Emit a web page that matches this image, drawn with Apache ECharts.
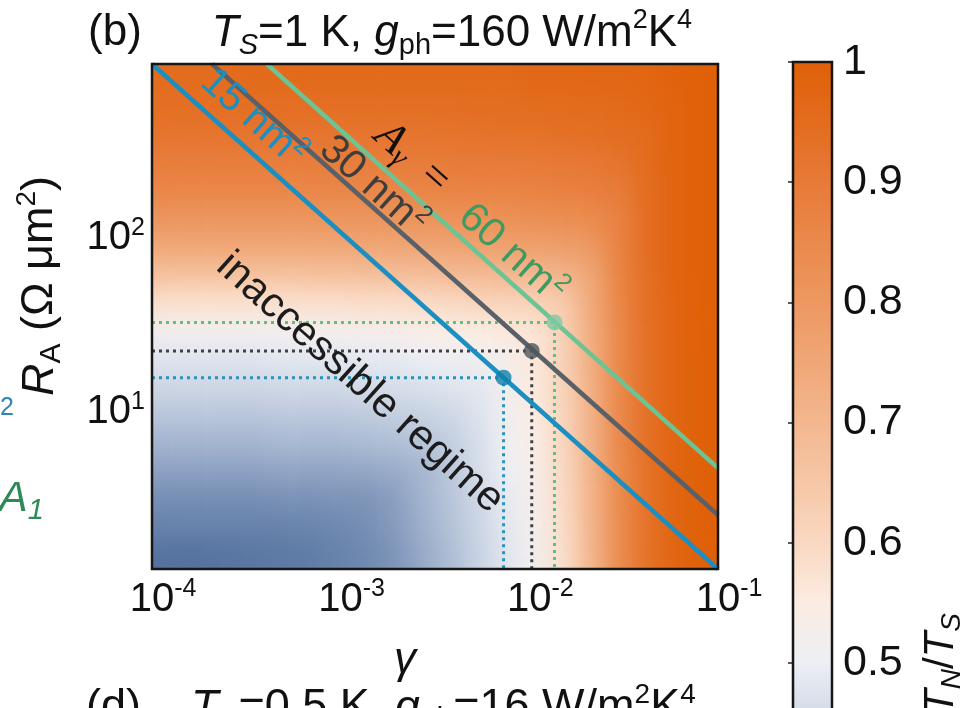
<!DOCTYPE html>
<html>
<head>
<meta charset="utf-8">
<script src="https://cdn.jsdelivr.net/npm/echarts@6/dist/echarts.min.js"></script>
<style>
  html, body { margin: 0; padding: 0; background: #ffffff; }
  #chart { width: 973px; height: 708px; }
  #fx { position: absolute; width: 0; height: 0; }
</style>
</head>
<body>
<!-- normalised blur: averages only the painted cells, so the field stays opaque up to the frame -->
<svg id="fx" aria-hidden="true">
  <filter id="smoothField" x="0" y="0" width="100%" height="100%" color-interpolation-filters="sRGB">
    <feGaussianBlur stdDeviation="11"/>
    <feComponentTransfer>
      <feFuncA type="linear" slope="40" intercept="0"/>
    </feComponentTransfer>
  </filter>
</svg>
<div id="chart"></div>
<script>
// ---- data -------------------------------------------------------------
// heat-map cell centres (log10 of gamma, log10 of R_A)
const gammaCellCentres = [-3.925, -3.775, -3.625, -3.475, -3.325, -3.175, -3.025, -2.875, -2.725, -2.575,
                          -2.425, -2.275, -2.125, -1.975, -1.825, -1.675, -1.525, -1.375, -1.225, -1.075];
const raCellCentres = [0.181, 0.342, 0.503, 0.664, 0.825, 0.986, 1.147, 1.308, 1.469,
                       1.631, 1.792, 1.953, 2.114, 2.275, 2.436, 2.597, 2.758, 2.919];

// T_N / T_S, one row per R_A cell, listed from the top row (high R_A) to the bottom row
const tnRatioRows = [
  [0.95,0.95,0.95,0.96,0.96,0.96,0.96,0.96,0.96,0.96,0.96,0.96,0.96,0.965,0.965,0.97,0.97,0.975,0.99,1.0],
  [0.94,0.94,0.94,0.94,0.94,0.94,0.94,0.94,0.94,0.94,0.94,0.945,0.945,0.95,0.95,0.955,0.96,0.965,0.985,1.0],
  [0.92,0.92,0.92,0.92,0.92,0.92,0.92,0.92,0.92,0.92,0.925,0.925,0.93,0.93,0.935,0.94,0.945,0.955,0.985,1.0],
  [0.89,0.89,0.89,0.89,0.89,0.89,0.89,0.89,0.89,0.895,0.895,0.9,0.9,0.9,0.905,0.91,0.92,0.95,0.985,1.0],
  [0.86,0.86,0.86,0.86,0.86,0.86,0.86,0.86,0.86,0.865,0.87,0.87,0.87,0.875,0.88,0.885,0.895,0.945,0.985,1.0],
  [0.81,0.81,0.81,0.81,0.81,0.81,0.81,0.81,0.815,0.815,0.82,0.82,0.825,0.83,0.835,0.845,0.875,0.945,0.985,1.0],
  [0.75,0.75,0.75,0.75,0.75,0.75,0.75,0.755,0.755,0.76,0.76,0.77,0.77,0.775,0.78,0.795,0.87,0.945,0.985,1.0],
  [0.67,0.67,0.67,0.67,0.67,0.67,0.675,0.675,0.68,0.68,0.69,0.69,0.7,0.7,0.71,0.75,0.865,0.94,0.985,1.0],
  [0.58,0.58,0.58,0.58,0.58,0.585,0.585,0.59,0.59,0.595,0.6,0.61,0.615,0.62,0.635,0.74,0.86,0.94,0.98,1.0],
  [0.52,0.52,0.52,0.52,0.52,0.525,0.525,0.53,0.53,0.54,0.545,0.55,0.56,0.57,0.62,0.73,0.855,0.935,0.98,1.0],
  [0.48,0.48,0.48,0.48,0.485,0.485,0.485,0.49,0.49,0.5,0.505,0.515,0.525,0.56,0.615,0.725,0.855,0.935,0.98,1.0],
  [0.45,0.45,0.45,0.45,0.455,0.455,0.455,0.46,0.465,0.47,0.48,0.485,0.515,0.555,0.61,0.72,0.85,0.935,0.98,1.0],
  [0.42,0.42,0.42,0.42,0.425,0.425,0.425,0.43,0.435,0.44,0.45,0.475,0.51,0.55,0.605,0.715,0.85,0.935,0.98,1.0],
  [0.39,0.39,0.39,0.39,0.395,0.395,0.395,0.4,0.405,0.415,0.43,0.465,0.505,0.54,0.6,0.715,0.85,0.935,0.98,1.0],
  [0.36,0.36,0.36,0.36,0.365,0.365,0.365,0.37,0.375,0.39,0.42,0.46,0.5,0.535,0.595,0.71,0.845,0.93,0.98,1.0],
  [0.33,0.33,0.33,0.33,0.335,0.335,0.34,0.34,0.355,0.385,0.415,0.45,0.49,0.53,0.59,0.705,0.845,0.93,0.98,1.0],
  [0.31,0.31,0.31,0.31,0.31,0.315,0.32,0.33,0.35,0.38,0.41,0.445,0.485,0.525,0.585,0.705,0.84,0.93,0.98,1.0],
  [0.28,0.28,0.285,0.29,0.295,0.3,0.31,0.32,0.34,0.37,0.4,0.44,0.48,0.52,0.58,0.7,0.84,0.93,0.98,1.0]
];

// axis ranges
const gammaRange = [1e-4, 0.1];
const raRange = [1.259, 1000];
const ratioRange = [0.2, 1.0];

// constant-area lines A_gamma = 15, 30, 60 nm^2 (end points in gamma and R_A)
const areaNames = ['15 nm²', '30 nm²', '60 nm²'];
const lineGammaEnds = [[1e-4, 0.1], [2.08e-4, 0.1], [4.06e-4, 0.1]];
const lineRAEnds = [[1000, 1.259], [1000, 2.57], [1000, 4.78]];

// operating points on each line
const dotGamma = [7.3e-3, 1.03e-2, 1.36e-2];
const dotRA = [15.8, 22.5, 32.8];

// colour scale ticks
const ratioTicks = [1.0, 0.9, 0.8, 0.7, 0.6, 0.5, 0.4, 0.3];

// ---- styling ------------------------------------------------------------
const SANS = '"Liberation Sans", Arial, Helvetica, sans-serif';
const SERIF = '"Liberation Serif", "Times New Roman", serif';
const lineColors = ['#1b8fc2', '#5a6067', '#6cc394'];
const dotColors = ['#0f80aa', '#4e565d', '#7fc9a2'];
const guideColors = ['#2a93b8', '#3e4148', '#62bd88'];
const labelColors = ['#1b8fc2', '#3e3e3e', '#3f9a62'];
const ratioColors = ['#3a5a8c', '#466494', '#5f7ca6', '#859abd', '#acbcd4', '#ced7e5', '#eceff5',
                     '#fcece2', '#f9d8c1', '#f6c7a7', '#f3b78f', '#f0a777', '#ed9861', '#ea894c',
                     '#e77a38', '#e36c1e', '#e06008'];

const W = 973, H = 708;
const PLOT = { left: 152, top: 64, width: 566, height: 505 };
const BAR = { left: 793, top: 62, width: 39 };
const BAR_PX_PER_UNIT = 1202;
const BAR_HEIGHT = (ratioRange[1] - ratioRange[0]) * BAR_PX_PER_UNIT;
const FS = 40;
const SLOPE = -Math.atan2(505, 566);
const TOP_Z = 2;   // canvas layer for axes, lines, text

function richSet(fill, size) {
  const s = size || FS;
  const lh = Math.round(s * 1.2);
  return {
    t:   { fill, fontSize: s, fontFamily: SANS, lineHeight: lh, verticalAlign: 'middle' },
    ti:  { fill, fontSize: s, fontFamily: SANS, fontStyle: 'italic', lineHeight: lh, verticalAlign: 'middle' },
    sup: { fill, fontSize: Math.round(s * 0.62), fontFamily: SANS, lineHeight: Math.round(s * 0.75), verticalAlign: 'top' },
    sub: { fill, fontSize: Math.round(s * 0.67), fontFamily: SANS, lineHeight: Math.round(s * 0.75), verticalAlign: 'bottom' },
    subi:{ fill, fontSize: Math.round(s * 0.67), fontFamily: SANS, fontStyle: 'italic', lineHeight: Math.round(s * 0.75), verticalAlign: 'bottom' },
    sa:  { fill, fontSize: 44, fontFamily: SERIF, fontStyle: 'italic', lineHeight: 48, verticalAlign: 'middle' },
    ssub:{ fill, fontSize: 30, fontFamily: SERIF, fontStyle: 'italic', lineHeight: 30, verticalAlign: 'bottom' },
    seq: { fill, fontSize: 44, fontFamily: SERIF, lineHeight: 48, verticalAlign: 'middle' }
  };
}

function textEl(x, y, text, fill, opt) {
  opt = opt || {};
  return {
    type: 'text', x, y, rotation: opt.rot || 0, z: 100, zlevel: TOP_Z, silent: true,
    style: {
      text, rich: richSet(fill, opt.size), fill,
      fontSize: opt.size || FS, fontFamily: SANS,
      align: opt.align || 'center', verticalAlign: 'middle'
    }
  };
}

// ---- series ---------------------------------------------------------------
const heatData = [];
tnRatioRows.forEach((row, r) => {
  row.forEach((v, c) => heatData.push([c, tnRatioRows.length - 1 - r, v]));
});

// the field is drawn twice: a plain layer and a smoothed layer on top of it
const series = [0, 1].map(layer => ({
  type: 'heatmap', xAxisIndex: 0, yAxisIndex: 0, data: heatData, zlevel: layer,
  itemStyle: { borderWidth: 0 }, emphasis: { disabled: true }, silent: true, progressive: 0
}));

dotGamma.forEach((g, i) => {
  series.push({
    type: 'line', xAxisIndex: 1, yAxisIndex: 1, silent: true, zlevel: TOP_Z, z: 3,
    data: [[gammaRange[0], dotRA[i]], [g, dotRA[i]], [g, raRange[0]]],
    showSymbol: false, lineStyle: { color: guideColors[i], width: 3, type: [3, 4] }
  });
});

areaNames.forEach((name, i) => {
  series.push({
    type: 'line', name, xAxisIndex: 1, yAxisIndex: 1, silent: true, zlevel: TOP_Z, z: 4,
    data: [[lineGammaEnds[i][0], lineRAEnds[i][0]], [lineGammaEnds[i][1], lineRAEnds[i][1]]],
    showSymbol: false, lineStyle: { color: lineColors[i], width: 4.5 }
  });
});

series.push({
  type: 'scatter', xAxisIndex: 1, yAxisIndex: 1, silent: true, zlevel: TOP_Z, z: 5,
  data: dotGamma.map((g, i) => ({ value: [g, dotRA[i]], itemStyle: { color: dotColors[i] } })),
  symbolSize: 16
});

// ---- axis label helpers ----------------------------------------------------
const expRich = {
  p: { width: 22 },
  b: { color: '#111', fontSize: FS, fontFamily: SANS, lineHeight: 46, verticalAlign: 'middle' },
  s: { color: '#111', fontSize: 25, fontFamily: SANS, lineHeight: 28, verticalAlign: 'top' }
};

const option = {
  animation: false,
  backgroundColor: 'transparent',
  grid: [
    { ...PLOT, containLabel: false, outerBoundsMode: 'none' },
    { ...PLOT, containLabel: false, outerBoundsMode: 'none' },
    { left: BAR.left, top: BAR.top, width: BAR.width, height: BAR_HEIGHT, containLabel: false, outerBoundsMode: 'none' }
  ],
  xAxis: [
    { type: 'category', gridIndex: 0, data: gammaCellCentres.map(String), show: false, boundaryGap: true },
    {
      type: 'log', logBase: 10, gridIndex: 1, min: gammaRange[0], max: gammaRange[1], zlevel: TOP_Z,
      axisLine: { show: false }, axisTick: { show: false }, splitLine: { show: false },
      axisLabel: {
        margin: 8, interval: 0, hideOverlap: false, showMinLabel: true, showMaxLabel: true,
        formatter: v => '{p|}{b|10}{s|' + Math.round(Math.log10(v)) + '}', rich: expRich
      }
    },
    { type: 'value', gridIndex: 2, show: false }
  ],
  yAxis: [
    { type: 'category', gridIndex: 0, data: raCellCentres.map(String), show: false, boundaryGap: true },
    {
      type: 'log', logBase: 10, gridIndex: 1, min: raRange[0], max: raRange[1], zlevel: TOP_Z,
      axisLine: { show: false }, axisTick: { show: false }, splitLine: { show: false },
      axisLabel: {
        margin: 7, align: 'right', interval: 0, hideOverlap: false,
        formatter: v => {
          const e = Math.round(Math.log10(v));
          return (e === 1 || e === 2) ? '{b|10}{s|' + e + '}' : '';
        },
        rich: expRich
      }
    },
    {
      type: 'value', gridIndex: 2, position: 'right', min: ratioRange[0], max: ratioRange[1], interval: 0.1,
      zlevel: TOP_Z, z: 10,
      axisLine: { show: false }, splitLine: { show: false },
      axisTick: { show: true, inside: true, length: 5, lineStyle: { color: '#222', width: 1.5 } },
      axisLabel: {
        margin: 11, color: '#111', fontSize: 43, fontFamily: SANS, hideOverlap: false,
        formatter: v => (ratioTicks.some(t => Math.abs(t - v) < 1e-6) ? (v > 0.999 ? '1' : v.toFixed(1)) : '')
      }
    }
  ],
  visualMap: {
    type: 'continuous', seriesIndex: [0, 1], min: ratioRange[0], max: ratioRange[1], zlevel: TOP_Z,
    left: BAR.left, top: BAR.top, itemWidth: BAR.width, itemHeight: BAR_HEIGHT,
    padding: 0, calculable: false, hoverLink: false, text: null, showLabel: false,
    inRange: { color: ratioColors }
  },
  series,
  graphic: [
    // plot frame and colour-bar frame
    { type: 'rect', z: 90, zlevel: TOP_Z, silent: true,
      shape: { x: PLOT.left, y: PLOT.top, width: PLOT.width, height: PLOT.height },
      style: { fill: 'none', stroke: '#161616', lineWidth: 2.5 } },
    { type: 'rect', z: 90, zlevel: TOP_Z, silent: true,
      shape: { x: BAR.left, y: BAR.top, width: BAR.width, height: BAR_HEIGHT },
      style: { fill: 'none', stroke: '#161616', lineWidth: 2.5 } },

    // panel tag and title
    textEl(115, 33, '{t|(b)}', '#111', { size: 44 }),
    textEl(452, 34, '{ti|T}{subi|S}{t|=1 K, }{ti|g}{sub|ph}{t|=160 W/m}{sup|2}{t|K}{sup|4}', '#111', { size: 44 }),

    // axis names
    textEl(40, 286, '{ti|R}{sub|A}{t| (Ω μm}{sup|2}{t|)}', '#111', { rot: Math.PI / 2, size: 45 }),
    textEl(405, 661, '{ti|γ}', '#111', { size: 44 }),
    textEl(941, 664, '{ti|T}{subi|N}{t|/}{ti|T}{subi|S}', '#111', { rot: Math.PI / 2, size: 42 }),

    // line annotations
    textEl(253, 118, '{t|' + areaNames[0].replace('²', '') + '}{sup|2}', labelColors[0], { rot: SLOPE }),
    textEl(373, 186, '{t|' + areaNames[1].replace('²', '') + '}{sup|2}', labelColors[1], { rot: SLOPE, size: 41 }),
    textEl(512, 254, '{t|' + areaNames[2].replace('²', '') + '}{sup|2}', labelColors[2], { rot: SLOPE, size: 41 }),
    textEl(412, 158, '{sa|A}{ssub|γ}{seq|  =}', '#111', { rot: SLOPE }),
    textEl(360, 383, '{t|inaccessible regime}', '#1c1c1c', { rot: SLOPE, size: 42 }),

    // neighbouring panels' text at the edges
    textEl(0, 411, '{sup|2}', '#2f86b5', { align: 'left' }),
    textEl(-1, 499, '{ti|A}{subi|1}', '#2e8b57', { align: 'left', size: 43 }),
    textEl(86, 708, '{t|(d)    }{ti|T}{subi|S}{t|=0.5 K, }{ti|g}{sub|ph}{t|=16 W/m}{sup|2}{t|K}{sup|4}', '#111',
           { align: 'left', size: 45 })
  ]
};

const chart = echarts.init(document.getElementById('chart'), null, { renderer: 'canvas' });
chart.setOption(option);

// smooth the upper copy of the field so the cells read as a continuous map,
// and keep it inside the plot frame
function smoothField() {
  const layer = chart.getDom().querySelector('canvas[data-zr-dom-id="zr_1"]');
  if (!layer) return;
  layer.style.filter = 'url(#smoothField)';
  const r = W - PLOT.left - PLOT.width, b = H - PLOT.top - PLOT.height;
  layer.style.clipPath = 'inset(' + PLOT.top + 'px ' + r + 'px ' + b + 'px ' + PLOT.left + 'px)';
}
smoothField();
chart.on('finished', smoothField);
</script>
</body>
</html>
